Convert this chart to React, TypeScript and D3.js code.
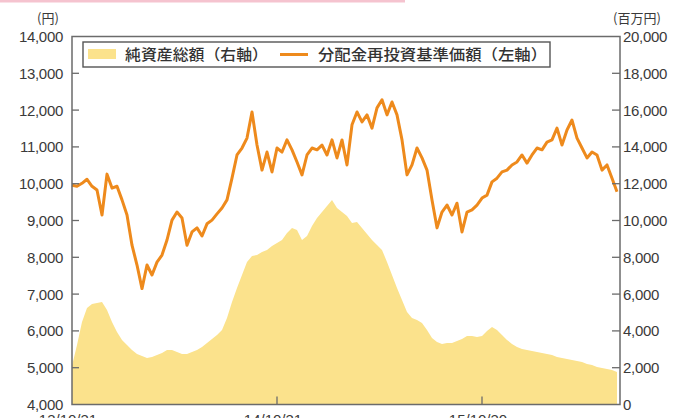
import React from "react";
import * as d3 from "d3";

const navValues: number[] = [
  9960, 9930, 10010, 10120, 9930, 9830, 9150, 10260, 9880, 9930,
  9560, 9150, 8330, 7790, 7150, 7790, 7520, 7870, 8060, 8470,
  9010, 9230, 9070, 8330, 8690, 8800, 8580, 8910, 9010, 9180,
  9340, 9560, 10150, 10780, 10970, 11240, 11950, 11050, 10370, 10860,
  10320, 10970, 10860, 11190, 10920, 10590, 10240, 10780, 10970, 10920,
  11050, 10780, 11190, 10700, 11190, 10510, 11600, 11950, 11680, 11870,
  11510, 12060, 12280, 11870, 12220, 11870, 11190, 10240, 10510, 10970,
  10700, 10370, 9560, 8800, 9230, 9420, 9150, 9470, 8690, 9230,
  9290, 9420, 9610, 9690, 10050, 10150, 10320, 10370, 10510, 10590,
  10780, 10560, 10780, 10970, 10920, 11130, 11190, 11510, 11050, 11460,
  11730, 11240, 10970, 10700, 10860, 10780, 10370, 10510, 10150, 9780,
];

const assetValues: number[] = [
  2100, 3230, 4480, 5250, 5460, 5520, 5570, 5140, 4480, 3940,
  3510, 3230, 2960, 2750, 2640, 2530, 2580, 2690, 2800, 2960,
  2960, 2850, 2750, 2750, 2850, 2960, 3130, 3340, 3560, 3780,
  4050, 4700, 5570, 6330, 7040, 7750, 8070, 8130, 8290, 8400,
  8620, 8780, 8940, 9320, 9590, 9490, 8940, 9160, 9700, 10140,
  10460, 10790, 11120, 10680, 10460, 10250, 9870, 9920, 9590, 9270,
  8940, 8670, 8400, 7750, 7040, 6330, 5680, 5030, 4700, 4590,
  4430, 4050, 3620, 3400, 3290, 3340, 3340, 3450, 3560, 3720,
  3720, 3670, 3720, 4000, 4210, 4050, 3780, 3510, 3290, 3130,
  3020, 2960, 2910, 2850, 2800, 2750, 2690, 2580, 2530, 2470,
  2420, 2360, 2310, 2200, 2150, 2040, 1980, 1930, 1880, 1770,
];

const leftTicks: number[] = [4000, 5000, 6000, 7000, 8000, 9000, 10000, 11000, 12000, 13000, 14000];
const rightTicks: number[] = [0, 2000, 4000, 6000, 8000, 10000, 12000, 14000, 16000, 18000, 20000];
const xTickIndex: number[] = [0, 41, 82];
const xTickLabels: string[] = ["13/10/31", "14/10/31", "15/10/30"];

const legendAsset = "純資産総額（右軸）";
const legendNav = "分配金再投資基準価額（左軸）";
const leftUnit = "(円)";
const rightUnit = "(百万円)";

const W = 677;
const H = 418;
const M = { left: 72, right: 620, top: 36.5, bottom: 404.5 };

const FONT = "'Liberation Sans', Arial, sans-serif";
const CJK = "'Noto Sans CJK JP', sans-serif";
const AXIS = "#6b6b6b";
const TEXT = "#3a3a3a";
const ORANGE = "#ee8a1c";
const YELLOW = "#fbe28c";

export default function App() {
  const x = d3.scaleLinear().domain([0, 109.6]).range([M.left, M.right]);
  const yL = d3.scaleLinear().domain([4000, 14000]).range([M.bottom, M.top]);
  const yR = d3.scaleLinear().domain([0, 20000]).range([M.bottom, M.top]);

  const area = d3
    .area<number>()
    .x((_, i) => x(i))
    .y0(yR(0))
    .y1((d) => yR(d))
    .curve(d3.curveLinear);

  const line = d3
    .line<number>()
    .x((_, i) => x(i))
    .y((d) => yL(d))
    .curve(d3.curveLinear);

  const fmt = d3.format(",");

  return (
    <svg
      width={W}
      height={H}
      style={{ position: "fixed", left: 0, top: 0, background: "#fff" }}
    >
      <rect x={0} y={0} width={W} height={H} fill="#fff" />
      <rect x={0} y={0} width={405} height={2.5} fill="#f5c3cf" />

      <path d={area(assetValues) || ""} fill={YELLOW} />
      <path
        d={line(navValues) || ""}
        fill="none"
        stroke={ORANGE}
        strokeWidth={3}
        strokeLinejoin="round"
      />

      {/* frame */}
      <rect
        x={M.left}
        y={M.top}
        width={M.right - M.left}
        height={M.bottom - M.top}
        fill="none"
        stroke={AXIS}
        strokeWidth={1.5}
      />

      {/* left ticks */}
      {leftTicks.map((t) => (
        <g key={"l" + t}>
          {t > 4000 && t < 14000 && (
            <line x1={M.left} x2={M.left + 7} y1={yL(t)} y2={yL(t)} stroke={AXIS} strokeWidth={1.3} />
          )}
          <text
            x={63}
            y={yL(t)}
            dy="0.36em"
            textAnchor="end"
            fontFamily={FONT}
            fontSize={15}
            fill={TEXT}
            letterSpacing={-0.3}
          >
            {fmt(t)}
          </text>
        </g>
      ))}

      {/* right ticks */}
      {rightTicks.map((t) => (
        <g key={"r" + t}>
          {t > 0 && t < 20000 && (
            <line x1={M.right - 8} x2={M.right} y1={yR(t)} y2={yR(t)} stroke={AXIS} strokeWidth={1.3} />
          )}
          <text
            x={623}
            y={yR(t)}
            dy="0.36em"
            textAnchor="start"
            fontFamily={FONT}
            fontSize={15}
            fill={TEXT}
            letterSpacing={-0.3}
          >
            {fmt(t)}
          </text>
        </g>
      ))}

      {/* bottom ticks */}
      {xTickIndex.map((t, i) => (
        <g key={"x" + t}>
          {i > 0 && (
            <line x1={x(t)} x2={x(t)} y1={M.bottom} y2={M.bottom - 8} stroke={AXIS} strokeWidth={1.3} />
          )}
          <text
            x={x(t) - 4}
            y={425}
            textAnchor="middle"
            fontFamily={FONT}
            fontSize={15}
            fill={TEXT}
          >
            {xTickLabels[i]}
          </text>
        </g>
      ))}

      {/* units */}
      <text x={48} y={23} textAnchor="middle" fontFamily={CJK} fontSize={13} fill={TEXT}>
        {leftUnit}
      </text>
      <text x={637} y={23} textAnchor="middle" fontFamily={CJK} fontSize={13} fill={TEXT}>
        {rightUnit}
      </text>

      {/* legend */}
      <rect x={83} y={42} width={467} height={25} fill="#fff" stroke="#555" strokeWidth={1.4} />
      <rect x={88} y={49} width={28} height={10} fill={YELLOW} />
      <text
        x={125}
        y={54.5}
        dy="0.36em"
        fontFamily={CJK}
        fontSize={15}
        fontWeight={500}
        fill="#333"
        textLength={143}
        lengthAdjust="spacingAndGlyphs"
      >
        {legendAsset}
      </text>
      <line x1={280} x2={308} y1={54.5} y2={54.5} stroke={ORANGE} strokeWidth={3} />
      <text
        x={318}
        y={54.5}
        dy="0.36em"
        fontFamily={CJK}
        fontSize={15}
        fontWeight={500}
        fill="#333"
        textLength={229}
        lengthAdjust="spacingAndGlyphs"
      >
        {legendNav}
      </text>
    </svg>
  );
}
